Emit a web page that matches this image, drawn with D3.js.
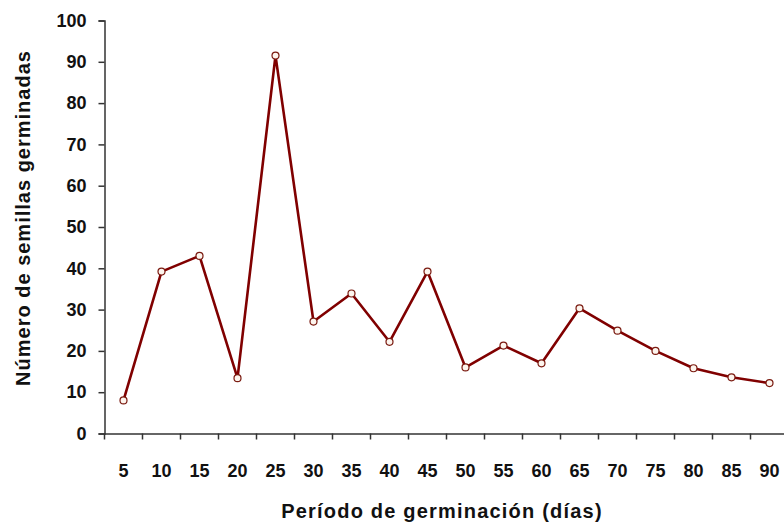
<!DOCTYPE html>
<html>
<head>
<meta charset="utf-8">
<script src="https://cdn.jsdelivr.net/npm/d3@7"></script>
<style>
  body { margin: 0; background: #fff; }
  svg { display: block; }
  text { font-family: "Liberation Sans", Arial, sans-serif; font-weight: bold; fill: #111; }
</style>
</head>
<body>
<svg id="chart" width="784" height="523"></svg>
<script>
// días de germinación y número de semillas
const dias = ["5", "10", "15", "20", "25", "30", "35", "40", "45", "50", "55", "60", "65", "70", "75", "80", "85", "90"]
const semillas = [8, 39.2, 43, 13.4, 91.5, 27.1, 33.9, 22.2, 39.2, 16, 21.3, 17, 30.3, 24.9, 20, 15.8, 13.6, 12.2]
const yTicks = [0, 10, 20, 30, 40, 50, 60, 70, 80, 90, 100]

const svg = d3.select("#chart")

const area = { left: 104.5, top: 20.5, bottom: 433.5, band: 38 }

const scX = d3.scaleBand()
    .domain(dias)
    .range([area.left, area.left + area.band * dias.length])
    .padding(0)

const scY = d3.scaleLinear()
    .domain([0, 100])
    .range([area.bottom, area.top])

// eje X
const gx = svg.append("g")
    .attr("transform", `translate(0, ${area.bottom})`)
    .call(d3.axisBottom(scX).tickSize(0).tickPadding(0))
gx.select(".domain").attr("stroke", "#333").attr("stroke-width", 1.5)
gx.selectAll("text")
    .attr("y", 43)
    .attr("dy", 0)
    .style("font-size", "18px")
    .style("font-family", "'Liberation Sans', Arial, sans-serif")
    .style("font-weight", "bold")
    .attr("fill", "#111")

// marcas entre categorías
gx.selectAll(".sep")
    .data(dias)
    .enter()
    .append("line")
    .attr("x1", d => scX(d))
    .attr("x2", d => scX(d))
    .attr("y1", 0)
    .attr("y2", 6)
    .attr("stroke", "#333")
    .attr("stroke-width", 1.5)

// eje Y
const gy = svg.append("g")
    .attr("transform", `translate(${area.left}, 0)`)
    .call(d3.axisLeft(scY).tickValues(yTicks).tickSize(6).tickPadding(12))
gy.select(".domain").attr("stroke", "#333").attr("stroke-width", 1.5)
gy.selectAll("line").attr("stroke", "#333").attr("stroke-width", 1.5)
gy.selectAll("text")
    .style("font-size", "18px")
    .style("font-family", "'Liberation Sans', Arial, sans-serif")
    .style("font-weight", "bold")
    .attr("fill", "#111")

// línea
const lineGen = d3.line()
    .x((d, i) => scX(dias[i]) + scX.bandwidth() / 2)
    .y(d => scY(d))

svg.append("path")
    .datum(semillas)
    .attr("d", lineGen)
    .attr("fill", "none")
    .attr("stroke", "#800000")
    .attr("stroke-width", 2.6)
    .attr("stroke-linejoin", "round")

svg.selectAll(".dot")
    .data(semillas)
    .enter()
    .append("circle")
    .attr("class", "dot")
    .attr("cx", (d, i) => scX(dias[i]) + scX.bandwidth() / 2)
    .attr("cy", d => scY(d))
    .attr("r", 3.5)
    .attr("fill", "#fdf5ee")
    .attr("stroke", "#7a1a10")
    .attr("stroke-width", 1.2)

// títulos
svg.append("text")
    .attr("x", 442)
    .attr("y", 518)
    .attr("text-anchor", "middle")
    .style("font-size", "20px")
    .style("letter-spacing", "1.2px")
    .text("Período de germinación (días)")

svg.append("text")
    .attr("transform", "translate(30, 218) rotate(-90)")
    .attr("text-anchor", "middle")
    .style("font-size", "20px")
    .style("letter-spacing", "1px")
    .text("Número de semillas germinadas")
</script>
</body>
</html>
